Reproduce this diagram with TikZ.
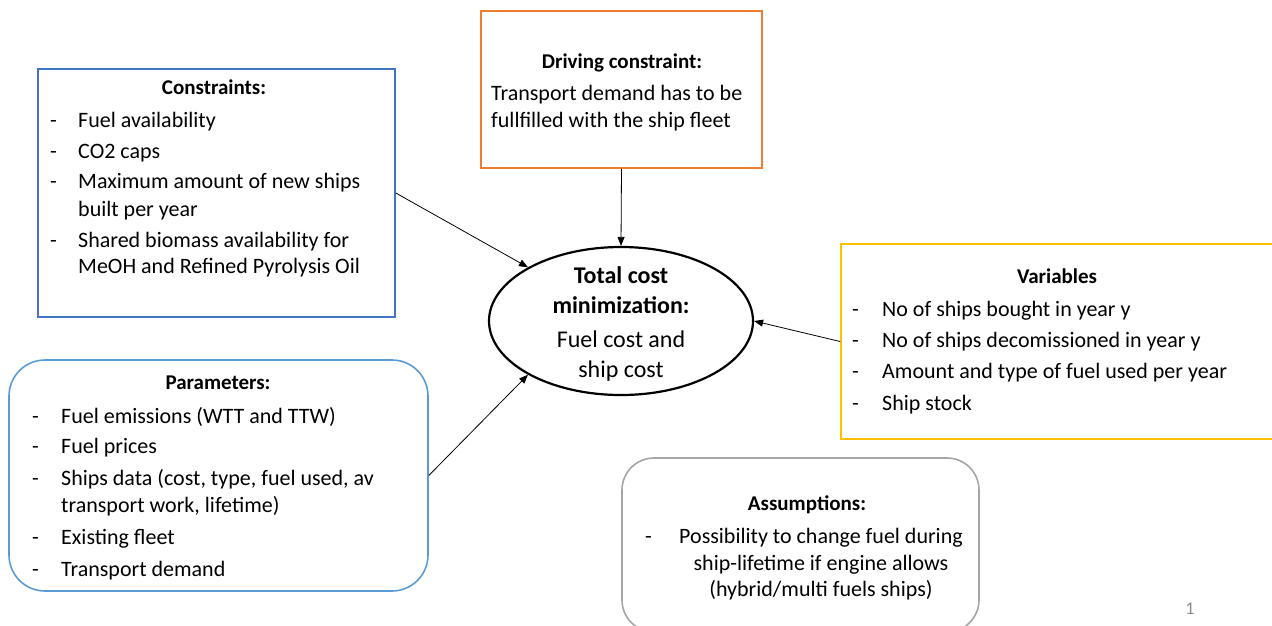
\documentclass[tikz,border=0pt]{standalone}
\usepackage{fontspec}
\setmainfont{Carlito}
\usetikzlibrary{arrows.meta,shapes.geometric}
\definecolor{consblue}{HTML}{4472C4}
\definecolor{drvorange}{HTML}{ED7D31}
\definecolor{varyellow}{HTML}{FFC000}
\definecolor{parblue}{HTML}{5B9BD5}
\definecolor{asmgray}{HTML}{A5A5A5}
\definecolor{pagegray}{HTML}{8C8C8C}
\begin{document}
\begin{tikzpicture}[x=1pt,y=-1pt,
  box/.style={draw, line width=1.6pt, inner sep=0pt},
  txt/.style={inner sep=0pt, anchor=base west, font=\fontsize{22}{26}\selectfont},
  ctxt/.style={inner sep=0pt, anchor=base, font=\fontsize{22}{26}\selectfont},
  head/.style={inner sep=0pt, anchor=base, font=\fontsize{21}{25}\selectfont\bfseries},
  goaltxt/.style={inner sep=0pt, anchor=base, font=\fontsize{24}{28}\selectfont},
  link/.style={-{Triangle[length=9pt,width=7pt]}, line width=0.8pt}
]
\useasboundingbox (0,0) rectangle (1272,625);

% ---- frames ----
\node[box, draw=consblue, minimum width=357pt, minimum height=248pt] (cons) at (216.5,193) {};
\node[box, draw=drvorange, minimum width=281pt, minimum height=157pt] (drv) at (621.5,89.5) {};
\node[box, draw=varyellow, minimum width=459pt, minimum height=195pt] (vars) at (1070.5,341.5) {};
\node[box, draw=parblue, rounded corners=36pt, minimum width=419pt, minimum height=231pt] (pars) at (218.5,475.5) {};
\node[box, draw=asmgray, rounded corners=32pt, minimum width=357pt, minimum height=174pt] (asm) at (800.5,545) {};
\node[draw, ellipse, line width=2.2pt, inner sep=0pt, minimum width=264pt, minimum height=148pt] (goal) at (621,321) {};

% ---- objective ----
\node[goaltxt, font=\fontsize{24}{28}\selectfont\bfseries] (g1) at (621,283) {Total cost};
\node[goaltxt, font=\fontsize{24}{28}\selectfont\bfseries] (g2) at (621,313) {minimization:};
\node[goaltxt] (g3) at (621,347) {Fuel cost and};
\node[goaltxt] (g4) at (621,377) {ship cost};

% ---- constraints ----
\node[head] (c0) at (214,94) {Constraints:};
\node[txt] (c1d) at (50,127) {-};
\node[txt] (c1) at (78,127) {Fuel availability};
\node[txt] (c2d) at (50,158) {-};
\node[txt] (c2) at (78,158) {CO2 caps};
\node[txt] (c3d) at (50,188) {-};
\node[txt] (c3) at (78,188) {Maximum amount of new ships};
\node[txt] (c3b) at (78,216) {built per year};
\node[txt] (c4d) at (50,247) {-};
\node[txt] (c4) at (78,247) {Shared biomass availability for};
\node[txt] (c4b) at (78,273) {MeOH and Refined Pyrolysis Oil};

% ---- driving constraint ----
\node[head] (d0) at (622,68) {Driving constraint:};
\node[txt] (d1) at (491,100) {Transport demand has to be};
\node[txt] (d2) at (491,127) {fullfilled with the ship fleet};

% ---- variables ----
\node[head] (v0) at (1057,283) {Variables};
\node[txt] (v1d) at (852,316) {-};
\node[txt] (v1) at (882,316) {No of ships bought in year y};
\node[txt] (v2d) at (852,347) {-};
\node[txt] (v2) at (882,347) {No of ships decomissioned in year y};
\node[txt] (v3d) at (852,378) {-};
\node[txt] (v3) at (882,378) {Amount and type of fuel used per year};
\node[txt] (v4d) at (852,410) {-};
\node[txt] (v4) at (882,410) {Ship stock};

% ---- parameters ----
\node[head] (p0) at (218,389) {Parameters:};
\node[txt] (p1d) at (32,423) {-};
\node[txt] (p1) at (61,423) {Fuel emissions (WTT and TTW)};
\node[txt] (p2d) at (32,453) {-};
\node[txt] (p2) at (61,453) {Fuel prices};
\node[txt] (p3d) at (32,485) {-};
\node[txt] (p3) at (61,485) {Ships data (cost, type, fuel used, av};
\node[txt] (p3b) at (61,512) {transport work, lifetime)};
\node[txt] (p4d) at (32,544) {-};
\node[txt] (p4) at (61,544) {Existing fleet};
\node[txt] (p5d) at (32,576) {-};
\node[txt] (p5) at (61,576) {Transport demand};

% ---- assumptions ----
\node[head] (a0) at (807,510) {Assumptions:};
\node[txt] (a1d) at (645,543) {-};
\node[ctxt] (a1) at (821,543) {Possibility to change fuel during};
\node[ctxt] (a2) at (821,570) {ship-lifetime if engine allows};
\node[ctxt] (a3) at (821,596) {(hybrid/multi fuels ships)};

% ---- page number ----
\node[inner sep=0pt, anchor=base, text=pagegray, font=\fontsize{18}{20}\selectfont] (pg) at (1190,614) {1};

% ---- links into the objective ----
\draw[link] (drv.south) -- (goal.north);
\draw[link] (cons.east) -- (goal.150);
\draw[link] (pars.east) -- (goal.210);
\draw[link] (vars.west) -- (goal.east);
\end{tikzpicture}
\end{document}
